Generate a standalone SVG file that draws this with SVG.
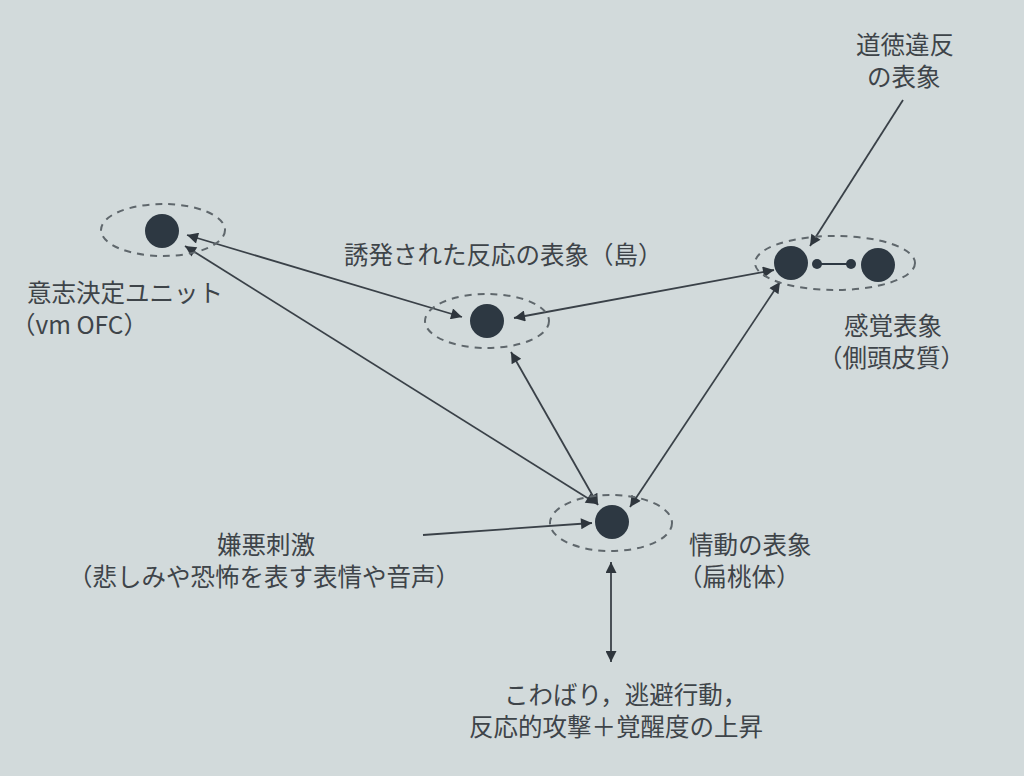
<svg xmlns="http://www.w3.org/2000/svg" width="1024" height="776" viewBox="0 0 1024 776">
<style>
.bg{fill:#d2dadb}
.halo{fill:none;stroke:#5f676c;stroke-width:2;stroke-dasharray:7 6}
.dot{fill:#2d3842}
.edge{fill:none;stroke:#3a4148;stroke-width:1.8}
.t{font-family:"Noto Sans CJK JP","Noto Sans",sans-serif;font-size:24.5px;fill:#3e4449}
</style>
<defs>
<marker id="ahl" viewBox="0 0 10 10" refX="10" refY="5" markerWidth="19" markerHeight="11" markerUnits="userSpaceOnUse" orient="auto-start-reverse">
<path d="M0,0 L10,5 L0,10 Z" fill="#2f363d"/>
</marker>
</defs>
<rect class="bg" x="0" y="0" width="1024" height="776"/>
<g id="connectors">
<line class="edge" x1="462" y1="317" x2="187" y2="235" marker-start="url(#ahl)" marker-end="url(#ahl)"/>
<line class="edge" x1="597" y1="504" x2="185" y2="246" marker-start="url(#ahl)" marker-end="url(#ahl)"/>
<line class="edge" x1="514" y1="318" x2="774" y2="270" marker-start="url(#ahl)" marker-end="url(#ahl)"/>
<line class="edge" x1="511" y1="352" x2="598" y2="505" marker-start="url(#ahl)" marker-end="url(#ahl)"/>
<line class="edge" x1="780" y1="282" x2="630" y2="507" marker-start="url(#ahl)" marker-end="url(#ahl)"/>
<line class="edge" x1="903" y1="100" x2="810" y2="246" marker-end="url(#ahl)"/>
<line class="edge" x1="423" y1="535" x2="592" y2="523" marker-end="url(#ahl)"/>
<line class="edge" x1="611" y1="562" x2="611" y2="662" marker-start="url(#ahl)" marker-end="url(#ahl)"/>
</g>
<g id="node-decision">
<ellipse class="halo" cx="163" cy="230" rx="62" ry="26"/>
<circle class="dot" cx="162" cy="231" r="17"/>
<text class="t" x="27" y="302">意志決定ユニット</text>
<text class="t" x="11" y="334">（vm OFC）</text>
</g>
<g id="node-insula">
<ellipse class="halo" cx="487" cy="321" rx="62" ry="27"/>
<circle class="dot" cx="487" cy="321" r="17"/>
<text class="t" x="344" y="264">誘発された反応の表象（島）</text>
</g>
<g id="node-sensory">
<ellipse class="halo" cx="835" cy="263" rx="80" ry="27"/>
<circle class="dot" cx="791" cy="263" r="17"/>
<circle class="dot" cx="878" cy="265" r="17"/>
<line x1="817" y1="264" x2="851" y2="264" stroke="#2d3842" stroke-width="2"/>
<circle class="dot" cx="817" cy="264" r="5"/>
<circle class="dot" cx="851" cy="264" r="5"/>
<text class="t" x="844" y="335">感覚表象</text>
<text class="t" x="818" y="367">（側頭皮質）</text>
</g>
<g id="node-moral">
<text class="t" x="856" y="54">道徳違反</text>
<text class="t" x="867" y="86">の表象</text>
</g>
<g id="node-emotion">
<ellipse class="halo" cx="611" cy="523" rx="61" ry="28"/>
<circle class="dot" cx="612" cy="522" r="17"/>
<text class="t" x="689" y="554">情動の表象</text>
<text class="t" x="678" y="586">（扁桃体）</text>
</g>
<g id="node-aversive">
<text class="t" x="217" y="554">嫌悪刺激</text>
<text class="t" x="68" y="586">（悲しみや恐怖を表す表情や音声）</text>
</g>
<g id="node-output">
<text class="t" x="504" y="704">こわばり，逃避行動，</text>
<text class="t" x="469" y="736">反応的攻撃＋覚醒度の上昇</text>
</g>
</svg>
